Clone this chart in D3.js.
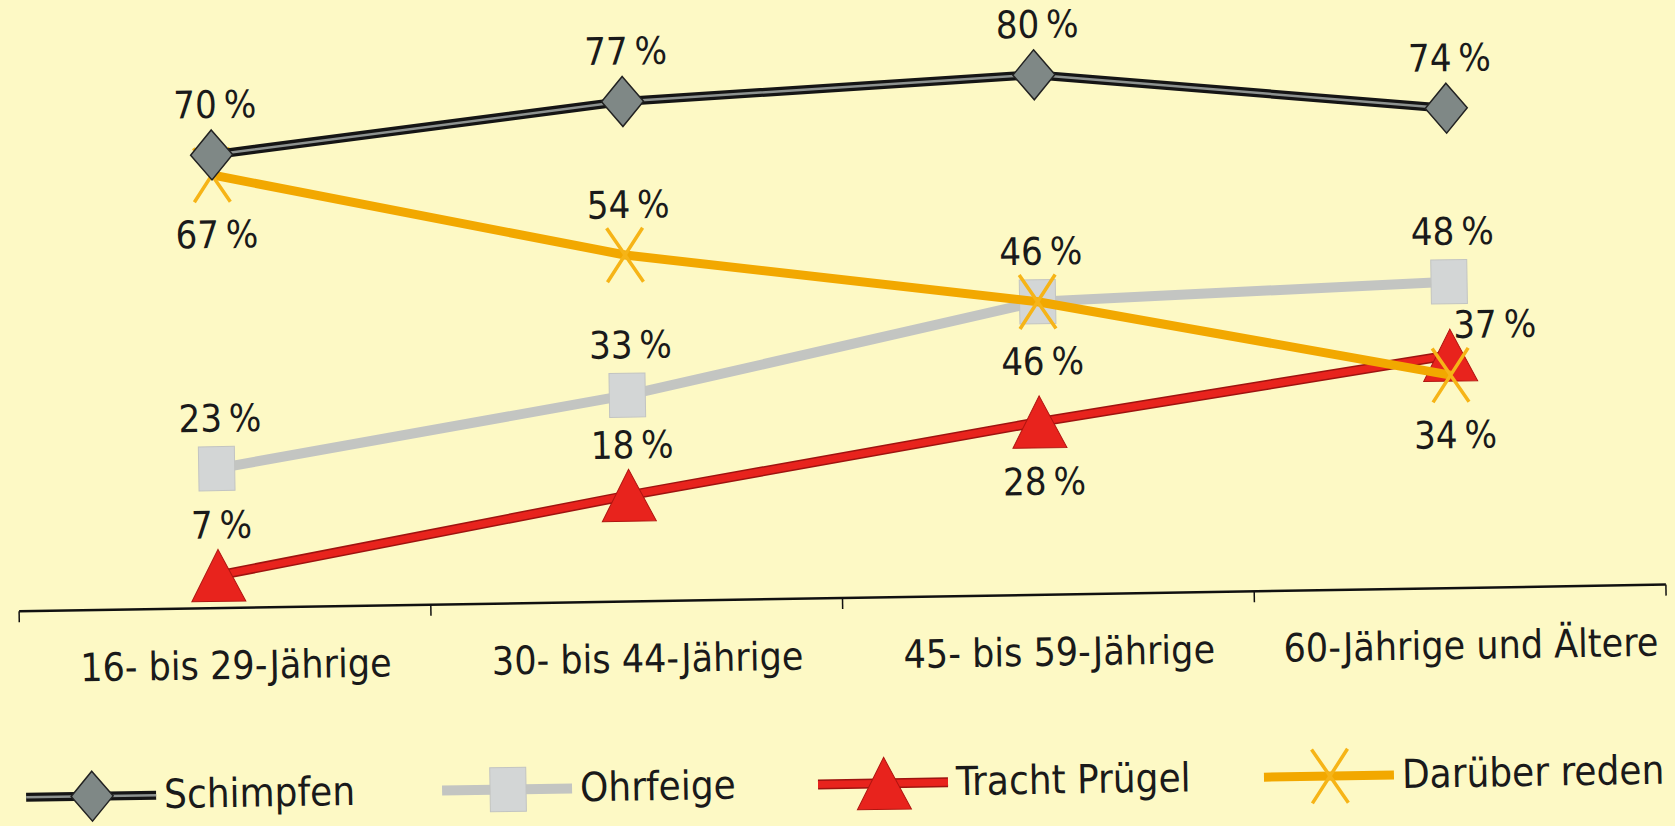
<!DOCTYPE html>
<html>
<head>
<meta charset="utf-8">
<script src="https://cdn.jsdelivr.net/npm/d3@7"></script>
<style>
  html, body { margin: 0; padding: 0; background: #fdf9c5; }
  svg { display: block; }
  text { font-family: "Liberation Sans Narrow", "DejaVu Sans Condensed", "Open Sans", sans-serif; fill: #1a1a1a; }
</style>
</head>
<body>
<svg id="graph" width="1675" height="826" viewBox="0 0 1675 826"></svg>
<script>
// categories (age groups) and series values in percent
var ageGroups = ["16- bis 29-Jährige", "30- bis 44-Jährige", "45- bis 59-Jährige", "60-Jährige und Ältere"];
var schimpfen = [70, 77, 80, 74];
var ohrfeige = [23, 33, 46, 48];
var trachtPruegel = [7, 18, 28, 37];
var darueberReden = [67, 54, 46, 34];
var seriesNames = ["Schimpfen", "Ohrfeige", "Tracht Prügel", "Darüber reden"];

// where each value label sits relative to its marker: "a" above, "b" below, "r" right
var schimpfenPos = ["a", "a", "a", "a"];
var ohrfeigePos = ["a", "a", "a", "a"];
var pruegelPos = ["a", "a", "b", "r"];
var redenPos = ["b", "a", "b", "b"];

var svg = d3.select("#graph"),
    width = 1675,
    height = 826;

// the scan is slightly rotated, so the whole drawing is too
var g = svg.append("g")
    .attr("transform", "rotate(-0.93,840,413)");

var x = d3.scaleBand().domain(ageGroups).range([16, 1663]);
var y = d3.scaleLinear().domain([0, 80]).range([612, 78]);
var axisY = 598;

function px(d, i) { return x(ageGroups[i]) + x.bandwidth() / 2 - 6; }

// x axis with downward ticks at the band edges
var xAxis = g.append("g").attr("transform", "translate(0," + axisY + ")");
xAxis.append("line")
    .attr("x1", x.range()[0]).attr("x2", x.range()[1])
    .attr("stroke", "#111").attr("stroke-width", 2.5);
var edges = ageGroups.map(function(c) { return x(c); }).concat([x.range()[1]]);
xAxis.selectAll(".tick").data(edges).enter().append("line")
    .attr("x1", function(d) { return d; }).attr("x2", function(d) { return d; })
    .attr("y1", 0).attr("y2", 11)
    .attr("stroke", "#111").attr("stroke-width", 1.5);
xAxis.selectAll(".cat").data(ageGroups).enter().append("text")
    .attr("x", function(d) { return x(d) + x.bandwidth() / 2 + 10; })
    .attr("y", 71)
    .attr("text-anchor", "middle")
    .attr("font-size", 39)
    .text(function(d) { return d; });

var line = d3.line()
    .x(function(d, i) { return px(d, i); })
    .y(function(d) { return y(d); });

// marker shapes
function diamond(s) {
    s.append("path").attr("d", "M0,-25L21,0L0,25L-21,0Z")
        .attr("fill", "#7f8886").attr("stroke", "#222").attr("stroke-width", 1.5);
}
function square(s) {
    s.append("rect").attr("x", -18).attr("y", -22).attr("width", 36).attr("height", 44)
        .attr("fill", "#d3d6d6").attr("stroke", "#c2c4c2").attr("stroke-width", 1);
}
function triangle(s) {
    s.append("path").attr("d", "M0,-26L27,26L-27,26Z")
        .attr("fill", "#e8231d").attr("stroke", "#b01510").attr("stroke-width", 1);
}
function cross(s) {
    s.append("path").attr("d", "M-18,-27Q0,0 18,27M18,-27Q0,0 -18,27")
        .attr("fill", "none").attr("stroke", "#f6b417").attr("stroke-width", 3.5);
}

var series = [
    {name: seriesNames[1], values: ohrfeige, pos: ohrfeigePos, marker: square,
        strokes: [{c: "#c3c5c2", w: 10}]},
    {name: seriesNames[2], values: trachtPruegel, pos: pruegelPos, marker: triangle,
        strokes: [{c: "#9e1410", w: 10}, {c: "#e8231d", w: 7}]},
    {name: seriesNames[3], values: darueberReden, pos: redenPos, marker: cross,
        strokes: [{c: "#f2a800", w: 9}]},
    {name: seriesNames[0], values: schimpfen, pos: schimpfenPos, marker: diamond,
        strokes: [{c: "#151515", w: 9}, {c: "#8d9290", w: 2.5}]}
];

series.forEach(function(s) {
    var sg = g.append("g").attr("class", "series");
    s.strokes.forEach(function(st) {
        sg.append("path")
            .attr("d", line(s.values))
            .attr("fill", "none")
            .attr("stroke", st.c)
            .attr("stroke-width", st.w)
            .attr("stroke-linejoin", "round");
    });
    sg.selectAll(".m").data(s.values).enter().append("g")
        .attr("transform", function(d, i) { return "translate(" + px(d, i) + "," + y(d) + ")"; })
        .each(function() { s.marker(d3.select(this)); });
});

// value labels drawn last so they sit above every line
series.forEach(function(s) {
    g.selectAll(null).data(s.values).enter().append("text")
        .attr("x", function(d, i) { return px(d, i) + (s.pos[i] == "r" ? 45 : 4); })
        .attr("y", function(d, i) {
            if (s.pos[i] == "a") return y(d) - 37;
            if (s.pos[i] == "b") return y(d) + 73;
            return y(d) - 17;
        })
        .attr("text-anchor", "middle")
        .attr("font-size", 38)
        .text(function(d) { return d + "\u2009%"; });
});

// legend
var legendX = [20, 436, 812, 1258];
var legendMarks = [diamond, square, triangle, cross];
var legendStrokes = [series[3].strokes, series[0].strokes, series[1].strokes, series[2].strokes];
var legend = g.append("g").attr("transform", "translate(0,784)");
seriesNames.forEach(function(n, i) {
    var lg = legend.append("g").attr("transform", "translate(" + legendX[i] + ",0)");
    legendStrokes[i].forEach(function(st) {
        lg.append("line").attr("x1", 0).attr("x2", 130).attr("y1", 0).attr("y2", 0)
            .attr("stroke", st.c).attr("stroke-width", st.w);
    });
    legendMarks[i](lg.append("g").attr("transform", "translate(66,0)"));
    lg.append("text").attr("x", 138).attr("y", 13)
        .attr("font-size", 40)
        .text(n);
});
</script>
</body>
</html>
